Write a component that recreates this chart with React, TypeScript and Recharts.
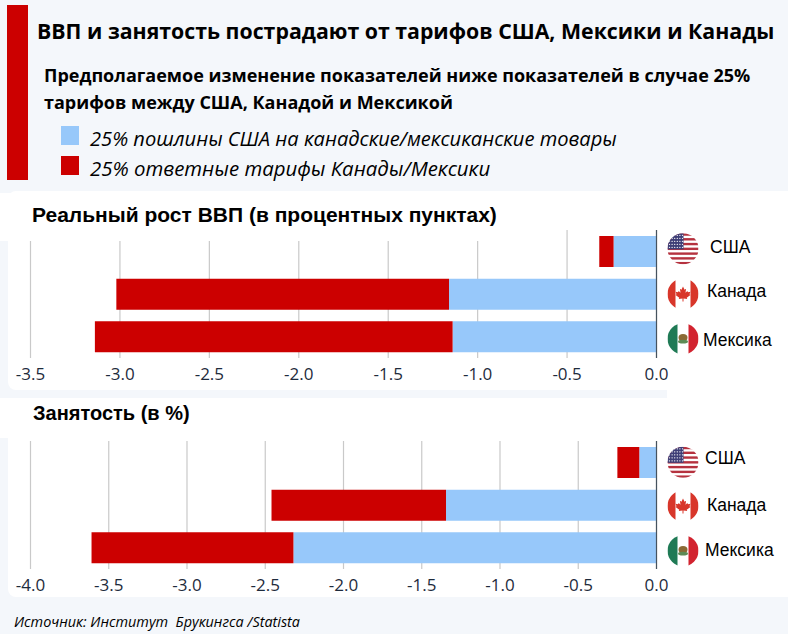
import React from "react";
import { BarChart, Bar, XAxis, YAxis, CartesianGrid, ReferenceLine } from "recharts";

const categories = ["США", "Канада", "Мексика"];

const gdpUsTariff = [-0.24, -1.16, -1.14];
const gdpRetaliation = [-0.08, -1.86, -2.0];
const gdpTicks = [-3.5, -3, -2.5, -2, -1.5, -1, -0.5, 0];

const jobsUsTariff = [-0.11, -1.345, -2.32];
const jobsRetaliation = [-0.14, -1.115, -1.29];
const jobsTicks = [-4, -3.5, -3, -2.5, -2, -1.5, -1, -0.5, 0];

const legendLabels = [
  "25% пошлины США на канадские/мексиканские товары",
  "25% ответные тарифы Канады/Мексики",
];

const BLUE = "#97c8fa";
const RED = "#cc0000";
const PAGE_BG = "#f4f7fb";

const toRows = (first: number[], second: number[]) =>
  categories.map((name, i) => ({ name, us: first[i], retaliation: second[i] }));

function Flag({ name, cx, cy, id }: { name: string; cx: number; cy: number; id: string }) {
  const r = 15.5;
  const left = cx - r;
  const top = cy - r;
  let body: React.ReactNode = null;

  if (name === "США") {
    const stripes = [0, 1, 2, 3, 4, 5, 6].map((i) => (
      <rect key={i} x={left} y={top + i * 4.77} width={r * 2} height={2.39} fill="#b5323f" />
    ));
    const stars: React.ReactNode[] = [];
    for (let row = 0; row < 5; row++) {
      for (let col = 0; col < 6; col++) {
        stars.push(
          <circle key={`${row}-${col}`} cx={left + 2 + col * 2.6} cy={top + 2 + row * 3} r={0.7} fill="#fff" />
        );
      }
    }
    body = (
      <>
        <rect x={left} y={top} width={r * 2} height={r * 2} fill="#fff" />
        {stripes}
        <rect x={left} y={top} width={16} height={16} fill="#3f3f77" />
        {stars}
      </>
    );
  } else if (name === "Канада") {
    const s = 0.62;
    body = (
      <>
        <rect x={left} y={top} width={r * 2} height={r * 2} fill="#fff" />
        <rect x={left} y={top} width={8} height={r * 2} fill="#d8362a" />
        <rect x={cx + r - 8} y={top} width={8} height={r * 2} fill="#d8362a" />
        <path
          transform={`translate(${cx},${cy}) scale(${s})`}
          fill="#d8362a"
          d="M0,-12 L2.5,-7 L5,-8.5 L4,-2 L7,-5 L8,-3 L12,-3.5 L10.5,0.5 L12,1.5 L6,6 L6.8,8 L0.8,7.2 L0.8,12 L-0.8,12 L-0.8,7.2 L-6.8,8 L-6,6 L-12,1.5 L-10.5,0.5 L-12,-3.5 L-8,-3 L-7,-5 L-4,-2 L-5,-8.5 L-2.5,-7 Z"
        />
      </>
    );
  } else {
    body = (
      <>
        <rect x={left} y={top} width={r * 2} height={r * 2} fill="#fff" />
        <rect x={left} y={top} width={10} height={r * 2} fill="#1f7a55" />
        <rect x={cx + r - 10} y={top} width={10} height={r * 2} fill="#d2232f" />
        <ellipse cx={cx} cy={cy - 1} rx={4.5} ry={3.6} fill="#8a6a35" />
        <ellipse cx={cx} cy={cy + 3} rx={5} ry={1.8} fill="#5d8a55" />
      </>
    );
  }

  return (
    <g>
      <clipPath id={id}>
        <circle cx={cx} cy={cy} r={r} />
      </clipPath>
      <g clipPath={`url(#${id})`}>{body}</g>
    </g>
  );
}

type LabelSpot = { flagDy: number; textX: number; textDy: number };

function PanelChart({
  rows,
  ticks,
  top,
  spots,
  prefix,
}: {
  rows: { name: string; us: number; retaliation: number }[];
  ticks: number[];
  top: number;
  spots: Record<string, LabelSpot>;
  prefix: string;
}) {
  const renderTick = (props: any) => {
    const { y, payload } = props;
    const spot = spots[payload.value];
    return (
      <g>
        <Flag name={payload.value} cx={683} cy={y + spot.flagDy} id={`${prefix}-${payload.index}`} />
        <text
          x={spot.textX}
          y={y + spot.textDy}
          dominantBaseline="central"
          fontFamily="Liberation Sans"
          fontSize={17.5}
          fill="#000"
        >
          {payload.value}
        </text>
      </g>
    );
  };

  return (
    <div style={{ position: "absolute", left: 0, top }}>
      <BarChart
        width={788}
        height={160}
        data={rows}
        layout="vertical"
        barSize={31}
        margin={{ top: 0, right: 0, bottom: 0, left: 30.5 }}
      >
        <CartesianGrid horizontal={false} stroke="#c9c9c9" strokeWidth={1.2} />
        <XAxis
          type="number"
          domain={[ticks[0], 0]}
          ticks={ticks}
          interval={0}
          height={32}
          axisLine={false}
          tickLine={false}
          tickMargin={4}
          tickFormatter={(v: number) => v.toFixed(1)}
          tick={{ fontFamily: "Open Sans", fontSize: 17, fill: "#1e2b3c" }}
        />
        <YAxis
          type="category"
          dataKey="name"
          orientation="right"
          width={131.5}
          axisLine={false}
          tickLine={false}
          tick={renderTick}
        />
        <Bar dataKey="us" stackId="a" fill={BLUE} isAnimationActive={false} />
        <Bar dataKey="retaliation" stackId="a" fill={RED} isAnimationActive={false} />
        <ReferenceLine x={0} stroke="#46535f" strokeWidth={1.2} />
      </BarChart>
    </div>
  );
}

const gdpSpots: Record<string, LabelSpot> = {
  США: { flagDy: -2.5, textX: 710, textDy: -4 },
  Канада: { flagDy: 0, textX: 707, textDy: -3 },
  Мексика: { flagDy: 2, textX: 703, textDy: 3.5 },
};

const jobsSpots: Record<string, LabelSpot> = {
  США: { flagDy: 0, textX: 705, textDy: -4 },
  Канада: { flagDy: 1, textX: 707, textDy: 0 },
  Мексика: { flagDy: 3, textX: 705, textDy: 2.5 },
};

const abs = (left: number, top: number, width: number, height: number, background: string): React.CSSProperties => ({
  position: "absolute",
  left,
  top,
  width,
  height,
  background,
});

const textAt = (left: number, top: number, style: React.CSSProperties): React.CSSProperties => ({
  position: "absolute",
  left,
  top,
  margin: 0,
  whiteSpace: "pre",
  color: "#000",
  ...style,
});

export default function App() {
  return (
    <div style={{ ...abs(0, 0, 788, 634, PAGE_BG), overflow: "hidden" }}>
      <div style={abs(7, 5, 21, 175, RED)} />
      <div style={textAt(37, 16, { fontFamily: "Open Sans", fontWeight: 700, fontSize: 21.3, lineHeight: "30px" })}>
        ВВП и занятость пострадают от тарифов США, Мексики и Канады
      </div>
      <div style={textAt(44, 62, { fontFamily: "Open Sans", fontWeight: 700, fontSize: 18, lineHeight: "27px" })}>
        Предполагаемое изменение показателей ниже показателей в случае 25%
        <br />
        тарифов между США, Канадой и Мексикой
      </div>

      <div style={abs(61, 126, 18, 19, BLUE)} />
      <div style={textAt(90, 126, { fontFamily: "Open Sans", fontStyle: "italic", fontSize: 20.1, lineHeight: "26px" })}>
        {legendLabels[0]}
      </div>
      <div style={abs(61, 156, 18, 19, RED)} />
      <div style={textAt(90, 154.5, { fontFamily: "Open Sans", fontStyle: "italic", fontSize: 20.4, lineHeight: "26px" })}>
        {legendLabels[1]}
      </div>

      {/* white panels behind the two charts */}
      <div style={{ ...abs(8, 191, 780, 199, "#fff"), borderRadius: "8px 0 0 8px" }} />
      <div style={abs(667, 240, 121, 160, "#fff")} />
      <div style={abs(0, 398, 788, 40, "#fff")} />
      <div style={{ ...abs(8, 437, 780, 160, "#fff"), borderRadius: "0 0 0 8px" }} />

      <PanelChart rows={toRows(gdpUsTariff, gdpRetaliation)} ticks={gdpTicks} top={230} spots={gdpSpots} prefix="gdp" />
      <PanelChart rows={toRows(jobsUsTariff, jobsRetaliation)} ticks={jobsTicks} top={441} spots={jobsSpots} prefix="jobs" />

      <div style={abs(0, 193, 520, 48, "#fff")} />
      <div style={textAt(32, 202, { fontFamily: "Liberation Sans", fontWeight: 700, fontSize: 21, lineHeight: "26px" })}>
        Реальный рост ВВП (в процентных пунктах)
      </div>
      <div style={textAt(33, 400, { fontFamily: "Liberation Sans", fontWeight: 700, fontSize: 20, lineHeight: "26px" })}>
        Занятость (в %)
      </div>
      <div style={textAt(14, 613, { fontFamily: "Open Sans", fontStyle: "italic", fontSize: 14.4, lineHeight: "18px" })}>
        Источник: Институт  Брукингса /Statista
      </div>
    </div>
  );
}
